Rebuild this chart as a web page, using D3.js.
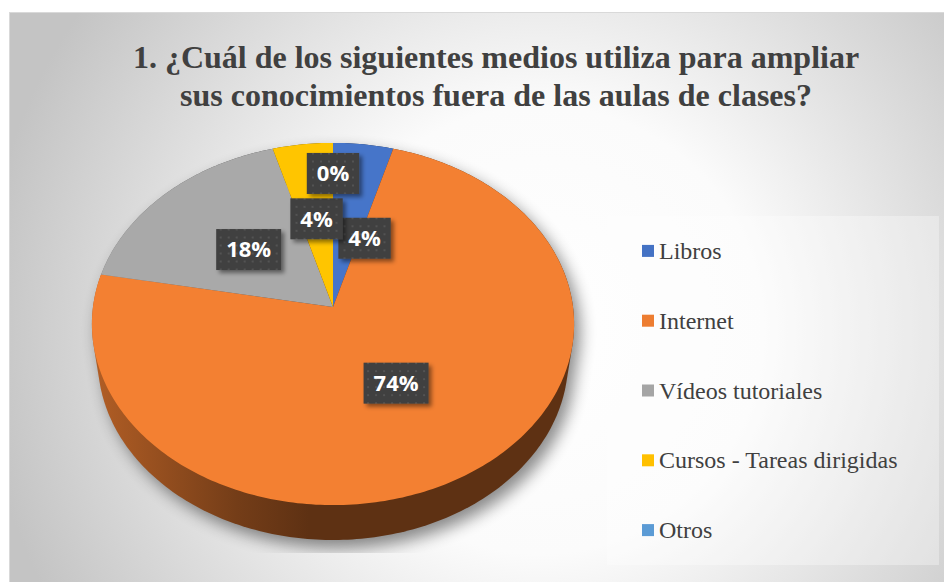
<!DOCTYPE html>
<meta charset="utf-8">
<svg width="944" height="582" style="display:block"></svg>
<script src="https://d3js.org/d3.v7.min.js"></script>
<script>

var categories = ["Libros", "Internet", "Vídeos tutoriales", "Cursos - Tareas dirigidas", "Otros"];
var counts = [3, 50, 12, 3, 0];
var colors = ["#4472C4", "#ED7D31", "#A5A5A5", "#FFC000", "#5B9BD5"];
var titleLines = ["1. ¿Cuál de los siguientes medios utiliza para ampliar",
                  "sus conocimientos fuera de las aulas de clases?"];

// where excel put each data label (fraction of radius, angle nudge in degrees)
var labelR = [0.42, 0.48, 0.49, 0.52, 0.8];
var labelNudge = [11, 0, 0, 0, 0];

var svg = d3.select("svg"),
    width = +svg.attr("width"),
    height = +svg.attr("height");

d3.select("body").style("margin", "0px");

var defs = svg.append("defs");

// chart background
var bg = defs.append("radialGradient")
    .attr("id", "bg")
    .attr("gradientUnits", "userSpaceOnUse")
    .attr("cx", 0).attr("cy", 0).attr("r", 1)
    .attr("gradientTransform", "translate(540,330) scale(560,560)");
bg.append("stop").attr("offset", 0).attr("stop-color", "#ffffff");
bg.append("stop").attr("offset", 0.4).attr("stop-color", "#fbfbfb");
bg.append("stop").attr("offset", 1).attr("stop-color", "#c4c4c4");

var dots = defs.append("pattern")
    .attr("id", "dots")
    .attr("width", 8).attr("height", 8)
    .attr("patternUnits", "userSpaceOnUse");
dots.append("rect").attr("width", 8).attr("height", 8).attr("fill", "#404040");
dots.append("circle").attr("cx", 4).attr("cy", 4).attr("r", 1.1).attr("fill", "#565656");

defs.append("filter").attr("id", "blur")
    .attr("x", "-20%").attr("y", "-20%").attr("width", "140%").attr("height", "140%")
  .append("feGaussianBlur").attr("stdDeviation", 8);

defs.append("filter").attr("id", "boxShadow")
    .attr("x", "-20%").attr("y", "-20%").attr("width", "150%").attr("height", "150%")
  .append("feDropShadow")
    .attr("dx", 3).attr("dy", 3).attr("stdDeviation", 2)
    .attr("flood-color", "#000").attr("flood-opacity", 0.45);

defs.append("clipPath").attr("id", "plotClip")
  .append("rect").attr("x", 0).attr("y", 0).attr("width", width).attr("height", 553);

svg.append("rect")
    .attr("x", 9.5).attr("y", 12.5)
    .attr("width", width - 9).attr("height", height - 12)
    .attr("fill", "url(#bg)")
    .attr("stroke", "#d9d9d9");

// title
svg.append("g")
  .selectAll("text")
  .data(titleLines)
  .enter().append("text")
    .attr("font-family", "Liberation Serif")
    .attr("font-weight", "bold")
    .attr("font-size", 32)
    .attr("fill", "#404040")
    .attr("x", 496)
    .attr("y", function(d, i) { return 68 + i * 38; })
    .attr("text-anchor", "middle")
    .text(function(d) { return d; });

// 3d pie: simple perspective projection of a disk
var cx = 333, cy = 307;
var tilt = 48.4 * Math.PI / 180, sA = Math.sin(tilt), cA = Math.cos(tilt);
var camDist = 7.07, focal = 1697, thick = 0.235;

function project(r, a, y) {
  var x = r * Math.sin(a), z = r * Math.cos(a);
  var d = camDist + z * cA - y * sA;
  return [cx + focal * x / d, cy - focal * (z * sA + y * cA) / d];
}

function rim(a0, a1, y) {
  var n = Math.max(2, Math.ceil((a1 - a0) / (Math.PI / 180)));
  return d3.range(n + 1).map(function(k) { return project(1, a0 + (a1 - a0) * k / n, y); });
}

var pie = d3.pie().sort(null).value(function(d) { return d; });
var arcs = pie(counts);
arcs.forEach(function(d, i) { d.name = categories[i]; d.color = colors[i]; d.i = i; });
var shown = arcs.filter(function(d) { return d.value > 0; });

var line = d3.line();
var total = d3.sum(counts);
var pct = function(v) { return Math.round(v / total * 100) + "%"; };

// shadow under the pie
var whole = d3.polygonHull(rim(0, 2 * Math.PI, 0).concat(rim(0, 2 * Math.PI, -thick)));
svg.append("g").attr("clip-path", "url(#plotClip)")
  .append("path")
    .attr("d", line(whole) + "Z")
    .attr("transform", "translate(6,8)")
    .attr("fill", "#000")
    .attr("opacity", 0.45)
    .attr("filter", "url(#blur)");

// side shading, one gradient per slice
var left = project(1, -Math.PI / 2, 0)[0], right = project(1, Math.PI / 2, 0)[0];
shown.forEach(function(d) {
  var base = d3.color(d.color);
  var g = defs.append("linearGradient")
      .attr("id", "side" + d.i)
      .attr("gradientUnits", "userSpaceOnUse")
      .attr("x1", left).attr("x2", right).attr("y1", 0).attr("y2", 0);
  g.append("stop").attr("offset", 0).attr("stop-color", base.darker(0.8));
  g.append("stop").attr("offset", 0.3).attr("stop-color", base.darker(2));
  g.append("stop").attr("offset", 0.45).attr("stop-color", base.darker(2.6));
  g.append("stop").attr("offset", 1).attr("stop-color", base.darker(2.6));
});

svg.append("g")
  .selectAll("path")
  .data(shown)
  .enter().append("path")
    .attr("d", function(d) {
      var pts = rim(d.startAngle, d.endAngle, 0).concat(rim(d.startAngle, d.endAngle, -thick));
      return line(d3.polygonHull(pts)) + "Z";
    })
    .attr("fill", function(d) { return "url(#side" + d.i + ")"; });

svg.append("g")
  .selectAll("path")
  .data(shown)
  .enter().append("path")
    .attr("d", function(d) {
      return line([project(0, 0, 0)].concat(rim(d.startAngle, d.endAngle, 0))) + "Z";
    })
    .attr("fill", function(d) { return d3.color(d.color).brighter(0.07); });

// data labels
var label = svg.append("g")
  .selectAll("g")
  .data(arcs)
  .enter().append("g")
    .attr("transform", function(d) {
      var a = (d.startAngle + d.endAngle) / 2 + labelNudge[d.i] * Math.PI / 180;
      return "translate(" + project(labelR[d.i], a, 0) + ")";
    });

label.append("rect")
    .attr("fill", "url(#dots)")
    .attr("filter", "url(#boxShadow)");

label.append("text")
    .attr("font-family", "Open Sans")
    .attr("font-weight", "bold")
    .attr("font-size", 22)
    .attr("text-anchor", "middle")
    .attr("dy", "0.36em")
    .attr("fill", "#fff")
    .text(function(d) { return pct(d.value); });

label.select("rect").each(function() {
  var t = this.parentNode.querySelector("text").getComputedTextLength();
  d3.select(this)
      .attr("x", -(t + 20) / 2).attr("y", -20.5)
      .attr("width", t + 20).attr("height", 41);
});

// legend
var legendTop = 216, legendBottom = 565;
svg.append("rect")
    .attr("x", 607).attr("y", legendTop)
    .attr("width", 332).attr("height", legendBottom - legendTop)
    .attr("fill", "#fff").attr("fill-opacity", 0.32);

var ly = d3.scaleBand().domain(categories).range([legendTop, legendBottom]);

var item = svg.append("g")
  .selectAll("g")
  .data(arcs)
  .enter().append("g")
    .attr("transform", function(d) { return "translate(642," + (ly(d.name) + ly.bandwidth() / 2) + ")"; });

item.append("rect")
    .attr("y", -6).attr("width", 12).attr("height", 12)
    .attr("fill", function(d) { return d.color; });

item.append("text")
    .attr("font-family", "Liberation Serif")
    .attr("font-size", 24)
    .attr("fill", "#404040")
    .attr("x", 17).attr("y", 8)
    .text(function(d) { return d.name; });

</script>
